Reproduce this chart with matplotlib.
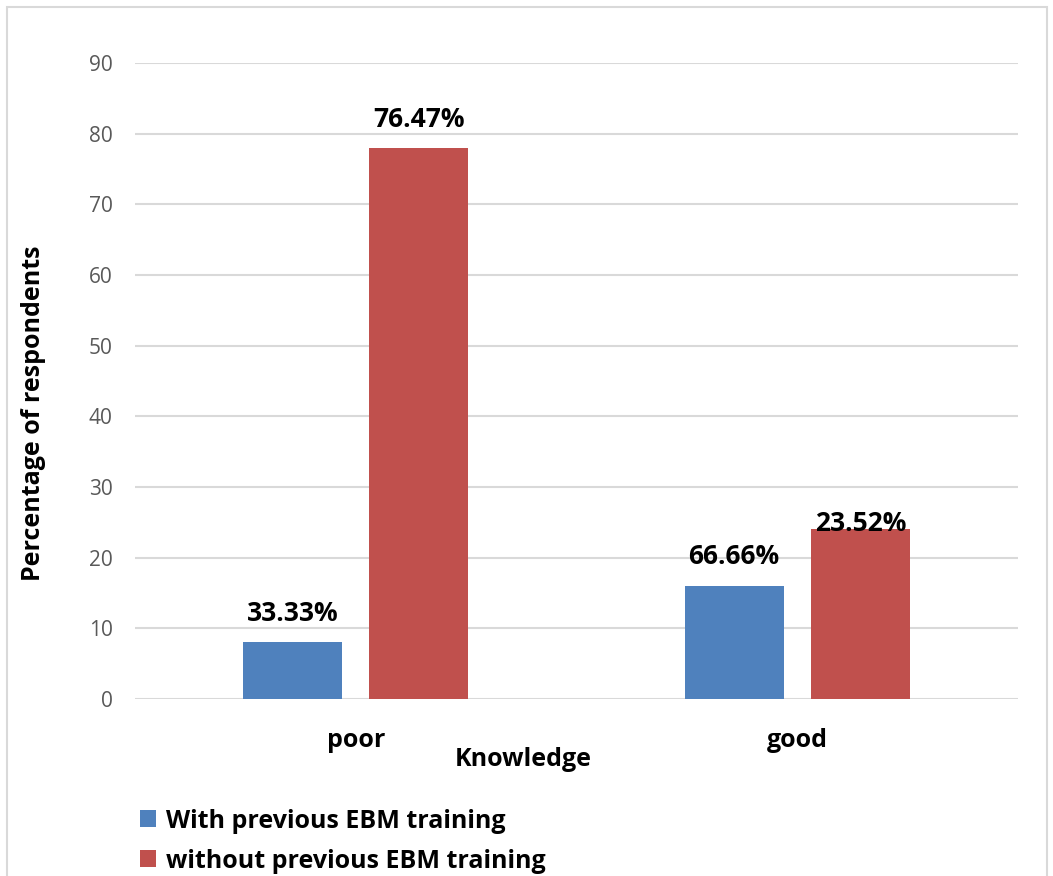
import numpy as np
import matplotlib
matplotlib.use('Agg')
import matplotlib.pyplot as plt
from matplotlib.patches import Rectangle

# 数据
categories = ['poor', 'good']
series_names = ['With previous EBM training', 'without previous EBM training']
with_training = [8, 16]
without_training = [78, 24]
with_labels = ['33.33%', '66.66%']
without_labels = ['76.47%', '23.52%']
y_ticks = [0, 10, 20, 30, 40, 50, 60, 70, 80, 90]

blue = '#4F81BD'
red = '#C0504D'
grid_gray = '#D9D9D9'

plt.rcParams['font.family'] = ['Open Sans', 'DejaVu Sans']

W, H = 1053, 876
fig = plt.figure(figsize=(W / 100, H / 100), dpi=100)
ax = fig.add_axes([135 / W, 1 - 699 / H, (1018 - 135) / W, (699 - 63) / H])

x = np.arange(len(categories))
width = 0.224
offset = 0.143

b1 = ax.bar(x - offset, with_training, width, color=blue, label=series_names[0], zorder=3)
b2 = ax.bar(x + offset, without_training, width, color=red, label=series_names[1], zorder=3)

# 数据标签（标签中心距柱顶的距离，单位同 y 轴）
for rect, lab, dy in zip(b1, with_labels, [4.1, 4.1]):
    ax.text(rect.get_x() + rect.get_width() / 2, rect.get_height() + dy, lab,
            ha='center', va='center', fontsize=19, fontweight='bold', zorder=4)
for rect, lab, dy in zip(b2, without_labels, [4.0, 0.85]):
    ax.text(rect.get_x() + rect.get_width() / 2, rect.get_height() + dy, lab,
            ha='center', va='center', fontsize=19, fontweight='bold', zorder=4)

ax.set_xlim(-0.5, 1.5)
ax.set_ylim(0, 90)
ax.set_yticks(y_ticks)
ax.set_xticks(x)
ax.set_xticklabels(categories, fontsize=18, fontweight='bold')
ax.tick_params(axis='y', labelsize=15, labelcolor='#595959', length=0, pad=16)
ax.tick_params(axis='x', length=0, pad=21)
ax.yaxis.grid(True, color=grid_gray, linewidth=1.5, zorder=0)
ax.set_axisbelow(True)
for s in ax.spines.values():
    s.set_visible(False)

ax.set_xlabel('Knowledge', fontsize=18, fontweight='bold')
ax.xaxis.set_label_coords((523 - 135) / (1018 - 135), -(747 - 699) / (699 - 63))
ax.set_ylabel('Percentage of respondents', fontsize=18, fontweight='bold')
ax.yaxis.set_label_coords(-(135 - 46) / (1018 - 135), (699 - 413) / (699 - 63))

leg = fig.legend(handles=[b1, b2], loc='upper left', bbox_to_anchor=(117 / W, 1 - 786 / H),
                 frameon=False, prop={'size': 18, 'weight': 'bold'},
                 handlelength=0.65, handleheight=0.65, handletextpad=0.4, labelspacing=0.6)

# 外框
fig.patches.append(Rectangle((7 / W, -0.05), (1047 - 7) / W, 1.05 - 7 / H,
                             transform=fig.transFigure, fill=False,
                             edgecolor=grid_gray, linewidth=1.5))

fig.savefig('out.png', dpi=100)
